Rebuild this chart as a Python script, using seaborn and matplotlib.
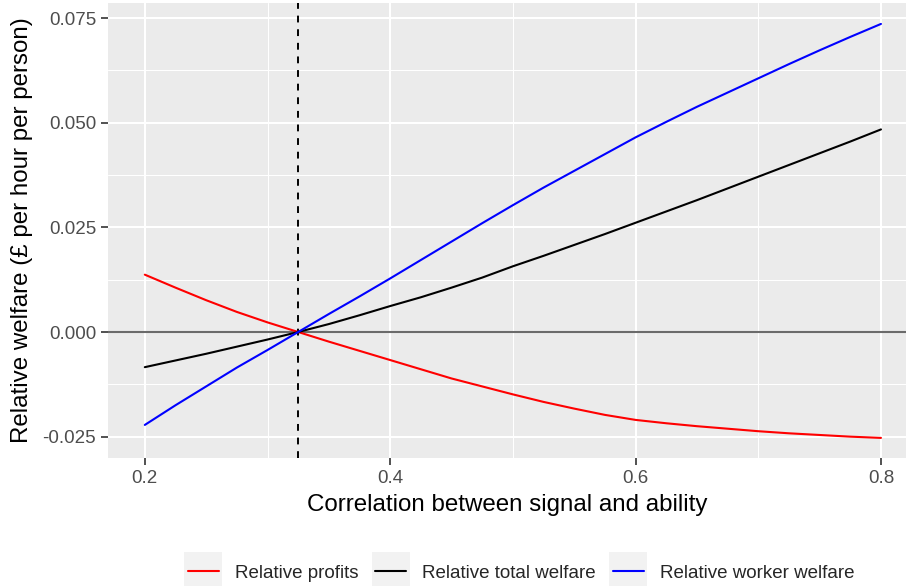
import numpy as np
import pandas as pd
import matplotlib
matplotlib.use("Agg")
import matplotlib.pyplot as plt
import seaborn as sns
from matplotlib.legend_handler import HandlerLine2D
from matplotlib.patches import Rectangle
from matplotlib.lines import Line2D
from matplotlib.ticker import FixedLocator

correlation = [0.2, 0.225, 0.25, 0.275, 0.3, 0.325, 0.35, 0.375, 0.4, 0.425, 0.45, 0.475,
               0.5, 0.525, 0.55, 0.575, 0.6, 0.625, 0.65, 0.675, 0.7, 0.725, 0.75, 0.775, 0.8]
relative_profits = [0.0137, 0.0106, 0.0076, 0.0048, 0.0023, 0.0, -0.0023, -0.0045, -0.0067,
                    -0.0089, -0.0111, -0.0130, -0.0149, -0.0167, -0.0183, -0.0198, -0.0210,
                    -0.0218, -0.0225, -0.0231, -0.0237, -0.0242, -0.0246, -0.0250, -0.0253]
relative_total = [-0.0084, -0.0068, -0.0052, -0.0035, -0.0018, 0.0, 0.0019, 0.0040, 0.0062,
                  0.0083, 0.0106, 0.0130, 0.0157, 0.0182, 0.0208, 0.0234, 0.0261, 0.0288,
                  0.0315, 0.0343, 0.0371, 0.0399, 0.0427, 0.0455, 0.0484]
relative_worker = [-0.0222, -0.0175, -0.0130, -0.0085, -0.0043, 0.0, 0.0043, 0.0085, 0.0128,
                   0.0172, 0.0216, 0.0260, 0.0303, 0.0345, 0.0385, 0.0425, 0.0465, 0.0502,
                   0.0538, 0.0572, 0.0606, 0.0640, 0.0673, 0.0705, 0.0736]
series_names = ["Relative profits", "Relative total welfare", "Relative worker welfare"]
series_colors = ["#FF0000", "#000000", "#0000FF"]
x_ticks = [0.2, 0.4, 0.6, 0.8]
y_ticks = [-0.025, 0.0, 0.025, 0.05, 0.075]
y_tick_labels = ["-0.025", "0.000", "0.025", "0.050", "0.075"]
threshold = 0.325

df = pd.DataFrame({
    "x": correlation * 3,
    "y": relative_profits + relative_total + relative_worker,
    "series": [series_names[0]] * len(correlation) + [series_names[1]] * len(correlation)
              + [series_names[2]] * len(correlation),
})

sns.set_theme(style="darkgrid", rc={
    "axes.facecolor": "#EBEBEB",
    "grid.color": "white",
    "figure.facecolor": "white",
})
plt.rcParams["font.family"] = ["Liberation Sans", "DejaVu Sans"]

fig = plt.figure(figsize=(9.06, 5.86), dpi=100)
ax = fig.add_axes([108 / 906, 1 - 458 / 586, 1 - 108 / 906, (458 - 3) / 586])

ax.axhline(0, color="#6B6B6B", lw=1.5, zorder=2)
ax.axvline(threshold, color="black", lw=1.4, ls=(0, (3.5, 3.5)), zorder=2)

sns.lineplot(data=df, x="x", y="y", hue="series", hue_order=series_names,
             palette=series_colors, lw=1.5, ax=ax, legend=False, zorder=3)

ax.set_xlim(0.17, 0.8204)
ax.set_ylim(-0.0301, 0.0786)
ax.set_xticks(x_ticks)
ax.set_xticklabels([f"{v:.1f}" for v in x_ticks])
ax.set_yticks(y_ticks)
ax.set_yticklabels(y_tick_labels)
ax.xaxis.set_minor_locator(FixedLocator([0.3, 0.5, 0.7]))
ax.yaxis.set_minor_locator(FixedLocator([-0.0125, 0.0125, 0.0375, 0.0625]))
ax.grid(which="major", color="white", lw=1.5)
ax.grid(which="minor", color="white", lw=0.75)
ax.tick_params(which="major", length=5, width=1.2, color="#333333", labelsize=13.5,
               labelcolor="#4D4D4D", pad=3.5, bottom=True, left=True)
ax.tick_params(which="minor", length=0)
for s in ax.spines.values():
    s.set_visible(False)

ax.set_xlabel("Correlation between signal and ability", fontsize=17.4, color="black", labelpad=5.5)
ax.set_ylabel("Relative welfare (£ per hour per person)", fontsize=17.4, color="black", labelpad=7)


class KeyHandler(HandlerLine2D):
    def create_artists(self, legend, orig_handle, xdescent, ydescent, width, height, fontsize, trans):
        side = 27.4
        cx = -xdescent + width / 2
        cy = -ydescent + height / 2
        rect = Rectangle((cx - side / 2, cy - side / 2), side, side,
                         facecolor="#F2F2F2", edgecolor="none", transform=trans)
        arts = super().create_artists(legend, orig_handle, xdescent, ydescent, width, height,
                                      fontsize, trans)
        return [rect] + arts


handles = [Line2D([], [], color=c, lw=1.5) for c in series_colors]
fig.legend(handles, series_names, loc="center", bbox_to_anchor=(521 / 906, 1 - 573 / 586),
           ncol=3, frameon=False, fontsize=13.5, handlelength=1.65, handletextpad=0.85,
           columnspacing=0.9, borderpad=0, handler_map={Line2D: KeyHandler()})

fig.savefig("out.png", dpi=100)
